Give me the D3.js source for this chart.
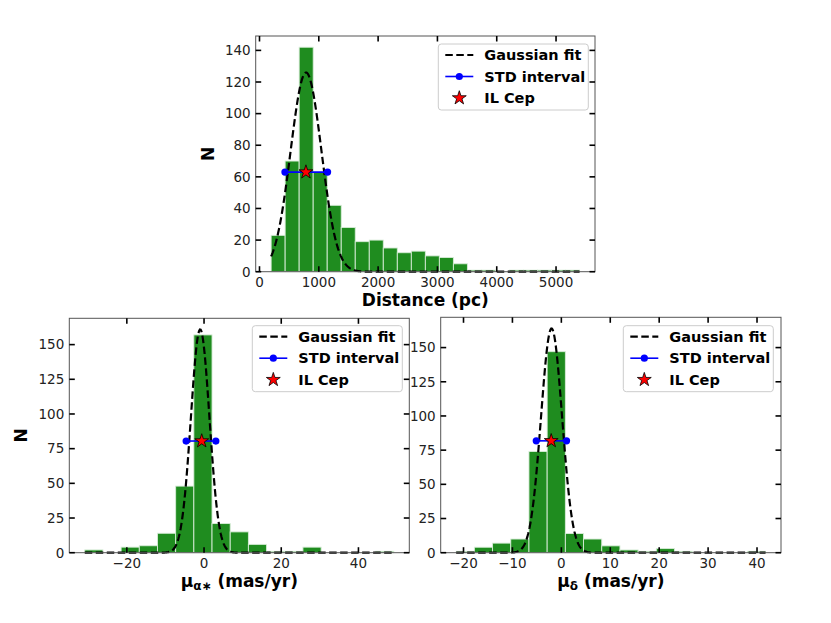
<!DOCTYPE html>
<html><head><meta charset="utf-8">
<script src="https://cdn.jsdelivr.net/npm/d3@7"></script>
<style>
body{margin:0;background:#fff;}
svg text{font-family:"DejaVu Sans",sans-serif;}
</style></head>
<body><svg id="c" width="831" height="623"></svg>
<script>
// ---------------- data ----------------
// Distance histogram (pc)
const distBinStart = 196;
const distBinWidth = 236.4;
const distCounts = [23,70,142,63,42,28,19,20,15,12,13,10,9,5,1,1,0,1,1,1,1,1];
const distGauss = [126, 785, 260];          // amplitude, mean, sigma
const distStd = [429, 1148];                // STD interval ends
const distStar = [783, 63];                 // IL Cep (x, y)
const distXTicks = [0,1000,2000,3000,4000,5000];
const distYTicks = [0,20,40,60,80,100,120,140];

// mu_alpha* histogram (mas/yr)
const pmraBinStart = -30.9;
const pmraBinWidth = 4.71;
const pmraCounts = [2,0,4,5,14,48,157,21,15,6,1,1,4,0,0,0,1];
const pmraGauss = [161, -1.0, 2.4];
const pmraStd = [-4.64, 3.06];
const pmraStar = [-0.6, 80.5];
const pmraXTicks = [-20,0,20,40];
const pmraYTicks = [0,25,50,75,100,125,150];

// mu_delta histogram (mas/yr)
const pmdecBinStart = -21.5;
const pmdecBinWidth = 3.72;
const pmdecCounts = [1,4,7,10,74,147,14,10,5,2,1,3,1,0,0,0,1];
const pmdecGauss = [164, -2.0, 2.15];
const pmdecStd = [-5.13, 1.06];
const pmdecStar = [-2.07, 81.8];
const pmdecXTicks = [-20,-10,0,10,20,30,40];
const pmdecYTicks = [0,25,50,75,100,125,150];

const legendLabels = ["Gaussian fit","STD interval","IL Cep"];

// ---------------- drawing ----------------
const svg = d3.select("#c");
const fmt = d => (d < 0 ? "\u2212" + Math.abs(d) : String(d));

function panel(o){
  const nb = o.counts.length;
  const a = o.binStart, b = o.binStart + nb*o.binWidth;
  const span = b - a;
  const x = d3.scaleLinear().domain([a - 0.05*span, b + 0.05*span]).range([o.left, o.right]);
  const [A, mu, sg] = o.gauss;
  const gpts = d3.range(0, 401).map(i => { const xv = a + span*i/400; return [xv, A*Math.exp(-0.5*((xv-mu)/sg)**2)]; });
  const ymax = 1.05*Math.max(d3.max(o.counts), d3.max(gpts, p=>p[1]));
  const y = d3.scaleLinear().domain([0, ymax]).range([o.bottom, o.top]);
  const g = svg.append("g");

  // bars
  g.selectAll("rect.bar").data(o.counts).join("rect")
    .attr("x", (d,i)=>x(a + i*o.binWidth))
    .attr("width", (d,i)=>x(a + (i+1)*o.binWidth) - x(a + i*o.binWidth))
    .attr("y", d=>y(d)).attr("height", d=>y(0)-y(d))
    .attr("fill", "#1f8c1f").attr("stroke", "#d8ecd8").attr("stroke-width", 0.9);

  // gaussian
  g.append("path").datum(gpts)
    .attr("d", d3.line().x(p=>x(p[0])).y(p=>y(p[1])))
    .attr("fill","none").attr("stroke","#000").attr("stroke-width",2.2)
    .attr("stroke-dasharray","7.5,3.5");

  // std interval
  const sy = o.star[1];
  g.append("line").attr("x1", x(o.std[0])).attr("x2", x(o.std[1]))
    .attr("y1", y(sy)).attr("y2", y(sy)).attr("stroke","#0000ff").attr("stroke-width",1.6);
  g.selectAll("circle.sd").data(o.std).join("circle")
    .attr("cx", d=>x(d)).attr("cy", y(sy)).attr("r", 3.6).attr("fill","#0000ff");
  g.append("path").attr("d", d3.symbol(d3.symbolStar, 60)())
    .attr("transform", `translate(${x(o.star[0])},${y(sy)})`)
    .attr("fill","#ff0000").attr("stroke","#000").attr("stroke-width",0.8);

  // frame
  g.append("rect").attr("x", o.left).attr("y", o.top)
    .attr("width", o.right-o.left).attr("height", o.bottom-o.top)
    .attr("fill","none").attr("stroke","#555").attr("stroke-width",1);

  // ticks (inward, all four sides)
  const tl = 5.5;
  o.xticks.forEach(t=>{
    const px = x(t);
    g.append("line").attr("x1",px).attr("x2",px).attr("y1",o.bottom).attr("y2",o.bottom-tl).attr("stroke","#000").attr("stroke-width",1.6);
    g.append("line").attr("x1",px).attr("x2",px).attr("y1",o.top).attr("y2",o.top+tl).attr("stroke","#000").attr("stroke-width",1.6);
    g.append("text").attr("x",px).attr("y",o.bottom+15).attr("text-anchor","middle")
      .attr("font-size",13.5).attr("fill","#222").text(fmt(t));
  });
  o.yticks.forEach(t=>{
    const py = y(t);
    g.append("line").attr("x1",o.left).attr("x2",o.left+tl).attr("y1",py).attr("y2",py).attr("stroke","#000").attr("stroke-width",1.6);
    g.append("line").attr("x1",o.right).attr("x2",o.right-tl).attr("y1",py).attr("y2",py).attr("stroke","#000").attr("stroke-width",1.6);
    g.append("text").attr("x",o.left-5).attr("y",py+4.8).attr("text-anchor","end")
      .attr("font-size",13.5).attr("fill","#222").text(fmt(t));
  });

  // x label
  const xl = g.append("text").attr("x",(o.left+o.right)/2).attr("y",o.bottom+34)
    .attr("text-anchor","middle").attr("font-size",17).attr("font-weight","bold").attr("fill","#000");
  o.xlabel(xl);
  // y label
  if(o.ylabel){
    g.append("text").attr("transform",`translate(${o.left-42},${(o.top+o.bottom)/2}) rotate(-90)`)
      .attr("text-anchor","middle").attr("font-size",17).attr("font-weight","bold").text(o.ylabel);
  }

  // legend
  const lx = o.legend[0], ly = o.legend[1], lw = 150, lh = 66;
  const lg = g.append("g");
  lg.append("rect").attr("x",lx).attr("y",ly).attr("width",lw).attr("height",lh).attr("rx",3)
    .attr("fill","#fff").attr("fill-opacity",0.85).attr("stroke","#ccc").attr("stroke-width",1);
  legendLabels.forEach((lab,i)=>{
    const yy = ly + 11 + i*21.5;
    const hx0 = lx + 7, hx1 = lx + 35;
    if(i===0){
      lg.append("line").attr("x1",hx0).attr("x2",hx1).attr("y1",yy).attr("y2",yy)
        .attr("stroke","#000").attr("stroke-width",2.2).attr("stroke-dasharray","7.5,3.5");
    } else if(i===1){
      lg.append("line").attr("x1",hx0).attr("x2",hx1).attr("y1",yy).attr("y2",yy)
        .attr("stroke","#0000ff").attr("stroke-width",1.6);
      lg.append("circle").attr("cx",(hx0+hx1)/2).attr("cy",yy).attr("r",3.6).attr("fill","#0000ff");
    } else {
      lg.append("path").attr("d", d3.symbol(d3.symbolStar, 60)())
        .attr("transform",`translate(${(hx0+hx1)/2},${yy})`)
        .attr("fill","#ff0000").attr("stroke","#000").attr("stroke-width",0.8);
    }
    lg.append("text").attr("x",lx+46).attr("y",yy+5).attr("font-size",14.5).attr("font-weight","bold").text(lab);
  });
}

panel({left:255.7,right:595,top:36,bottom:271.7,
  binStart:distBinStart,binWidth:distBinWidth,counts:distCounts,gauss:distGauss,std:distStd,star:distStar,
  xticks:distXTicks,yticks:distYTicks,legend:[438.3,44],ylabel:"N",
  xlabel:t=>t.text("Distance (pc)")});

panel({left:69.3,right:409.3,top:318.3,bottom:552.7,
  binStart:pmraBinStart,binWidth:pmraBinWidth,counts:pmraCounts,gauss:pmraGauss,std:pmraStd,star:pmraStar,
  xticks:pmraXTicks,yticks:pmraYTicks,legend:[252.3,325.7],ylabel:"N",
  xlabel:t=>{t.append("tspan").text("\u03bc");
    t.append("tspan").attr("font-size",12).attr("dy",3.5).text("\u03b1\u2217");
    t.append("tspan").attr("dy",-3.5).text(" (mas/yr)");}});

panel({left:440.7,right:781,top:317.3,bottom:552.7,
  binStart:pmdecBinStart,binWidth:pmdecBinWidth,counts:pmdecCounts,gauss:pmdecGauss,std:pmdecStd,star:pmdecStar,
  xticks:pmdecXTicks,yticks:pmdecYTicks,legend:[623.3,325.7],ylabel:null,
  xlabel:t=>{t.append("tspan").text("\u03bc");
    t.append("tspan").attr("font-size",12).attr("dy",3.5).text("\u03b4");
    t.append("tspan").attr("dy",-3.5).text(" (mas/yr)");}});
</script></body></html>
